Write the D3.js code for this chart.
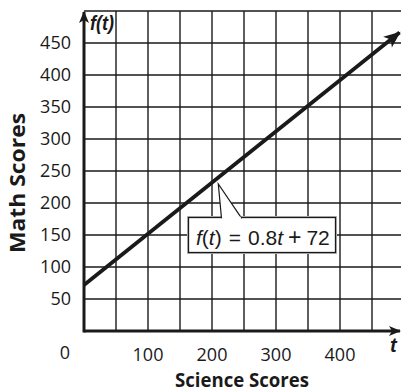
<!DOCTYPE html>
<html><head><meta charset="utf-8">
<script src="https://cdn.jsdelivr.net/npm/d3@7"></script>
<style>body{margin:0;background:#fff}svg{display:block}</style>
</head><body>
<script>
const xTicks = [100, 200, 300, 400];
const yTicks = [50, 100, 150, 200, 250, 300, 350, 400, 450];
const gridX = [50, 100, 150, 200, 250, 300, 350, 400, 450];
const gridY = [50, 100, 150, 200, 250, 300, 350, 400, 450, 500];
const slope = 0.8, intercept = 72;
const lineT = [0, 493];
const xTitle = "Science Scores", yTitle = "Math Scores";

const W = 401, H = 392;
const x = d3.scaleLinear().domain([0, 500]).range([84, 404]);
const y = d3.scaleLinear().domain([0, 500]).range([331, 11]);
const svg = d3.select("body").append("svg").attr("width", W).attr("height", H);
const ink = "#1a1a1a";
const defs = svg.append("defs");
function marker(id, w, h) {
  defs.append("marker").attr("id", id).attr("viewBox", "0 0 12 10").attr("refX", 11).attr("refY", 5)
    .attr("markerWidth", w).attr("markerHeight", h).attr("markerUnits", "userSpaceOnUse").attr("orient", "auto")
    .append("path").attr("d", "M0,0 L12,5 L0,10 L3,5 Z").attr("fill", ink);
}
marker("ah", 12, 10);
marker("ahL", 18, 14);

// grid
svg.append("g").selectAll("line").data(gridX).join("line")
  .attr("x1", d => x(d)).attr("x2", d => x(d)).attr("y1", y(500)).attr("y2", y(0))
  .attr("stroke", ink).attr("stroke-width", 1.4);
svg.append("g").selectAll("line").data(gridY).join("line")
  .attr("x1", x(0)).attr("x2", W).attr("y1", d => y(d)).attr("y2", d => y(d))
  .attr("stroke", ink).attr("stroke-width", 1.4);

// axes
svg.append("line").attr("x1", x(0)).attr("x2", 400).attr("y1", y(0)).attr("y2", y(0))
  .attr("stroke", ink).attr("stroke-width", 3).attr("marker-end", "url(#ah)");
svg.append("line").attr("x1", x(0)).attr("x2", x(0)).attr("y1", y(0) + 1.5).attr("y2", 12)
  .attr("stroke", ink).attr("stroke-width", 3).attr("marker-end", "url(#ah)");

// function line
svg.append("line")
  .attr("x1", x(lineT[0])).attr("y1", y(slope * lineT[0] + intercept))
  .attr("x2", x(lineT[1])).attr("y2", y(slope * lineT[1] + intercept))
  .attr("stroke", ink).attr("stroke-width", 3.8).attr("marker-end", "url(#ahL)");

// tick labels
const tf = "'Open Sans', sans-serif";
svg.append("g").selectAll("text").data(yTicks).join("text")
  .attr("x", 71).attr("y", d => y(d)).attr("dy", "0.36em").attr("text-anchor", "end")
  .attr("font-family", tf).attr("font-size", 18).attr("fill", ink).text(d => d);
svg.append("g").selectAll("text").data(xTicks).join("text")
  .attr("x", d => x(d)).attr("y", 361).attr("text-anchor", "middle")
  .attr("font-family", tf).attr("font-size", 18).attr("fill", ink).text(d => d);
svg.append("text").attr("x", 65).attr("y", 358.5).attr("text-anchor", "middle")
  .attr("font-family", tf).attr("font-size", 18).attr("fill", ink).text("0");

// titles
svg.append("text").attr("transform", "translate(25,183) rotate(-90)").attr("text-anchor", "middle")
  .attr("font-family", tf).attr("font-weight", "bold").attr("font-size", 21)
  .attr("textLength", 140).attr("lengthAdjust", "spacingAndGlyphs").attr("fill", ink).text(yTitle);
svg.append("text").attr("x", 242).attr("y", 386.5).attr("text-anchor", "middle")
  .attr("font-family", tf).attr("font-weight", "bold").attr("font-size", 19)
  .attr("textLength", 134).attr("lengthAdjust", "spacingAndGlyphs").attr("fill", ink).text(xTitle);

// axis variable labels
const ef = "'Liberation Sans', Arial, sans-serif";
svg.append("text").attr("x", 90).attr("y", 30).attr("font-family", ef).attr("font-size", 20)
  .attr("font-weight", "bold").attr("font-style", "italic").attr("fill", ink)
  .attr("textLength", 24).attr("lengthAdjust", "spacingAndGlyphs").text("f(t)");
svg.append("text").attr("x", 390).attr("y", 352).attr("font-family", ef).attr("font-size", 20)
  .attr("font-weight", "bold").attr("font-style", "italic").attr("fill", ink).text("t");

// callout
const bx = 188.5, by = 217.5, bw = 147, bh = 35;
svg.append("rect").attr("x", bx).attr("y", by).attr("width", bw).attr("height", bh)
  .attr("fill", "#fff").attr("stroke", "#bbb").attr("stroke-width", 3);
svg.append("rect").attr("x", bx).attr("y", by).attr("width", bw).attr("height", bh)
  .attr("fill", "#fff").attr("stroke", ink).attr("stroke-width", 1.3);
svg.append("path").attr("d", `M221.5,${by + 0.8} L218.3,184 L241.7,${by + 0.8}`)
  .attr("fill", "#fff").attr("stroke", ink).attr("stroke-width", 1.2);
svg.append("rect").attr("x", 222.3).attr("y", by - 0.8).attr("width", 18.5).attr("height", 2.5).attr("fill", "#fff");
const eq = svg.append("text").attr("x", 196).attr("y", 245).attr("font-family", ef).attr("font-size", 21).attr("fill", ink);
eq.append("tspan").attr("font-style", "italic").text("f");
eq.append("tspan").text("(");
eq.append("tspan").attr("font-style", "italic").text("t");
eq.append("tspan").text(")");
eq.append("tspan").attr("dx", 7).text("=");
eq.append("tspan").attr("dx", 7).text("0.8");
eq.append("tspan").attr("font-style", "italic").text("t");
eq.append("tspan").attr("dx", 5).attr("font-size", 23).text("+");
eq.append("tspan").attr("dx", 5).text("72");
</script>
</body></html>
